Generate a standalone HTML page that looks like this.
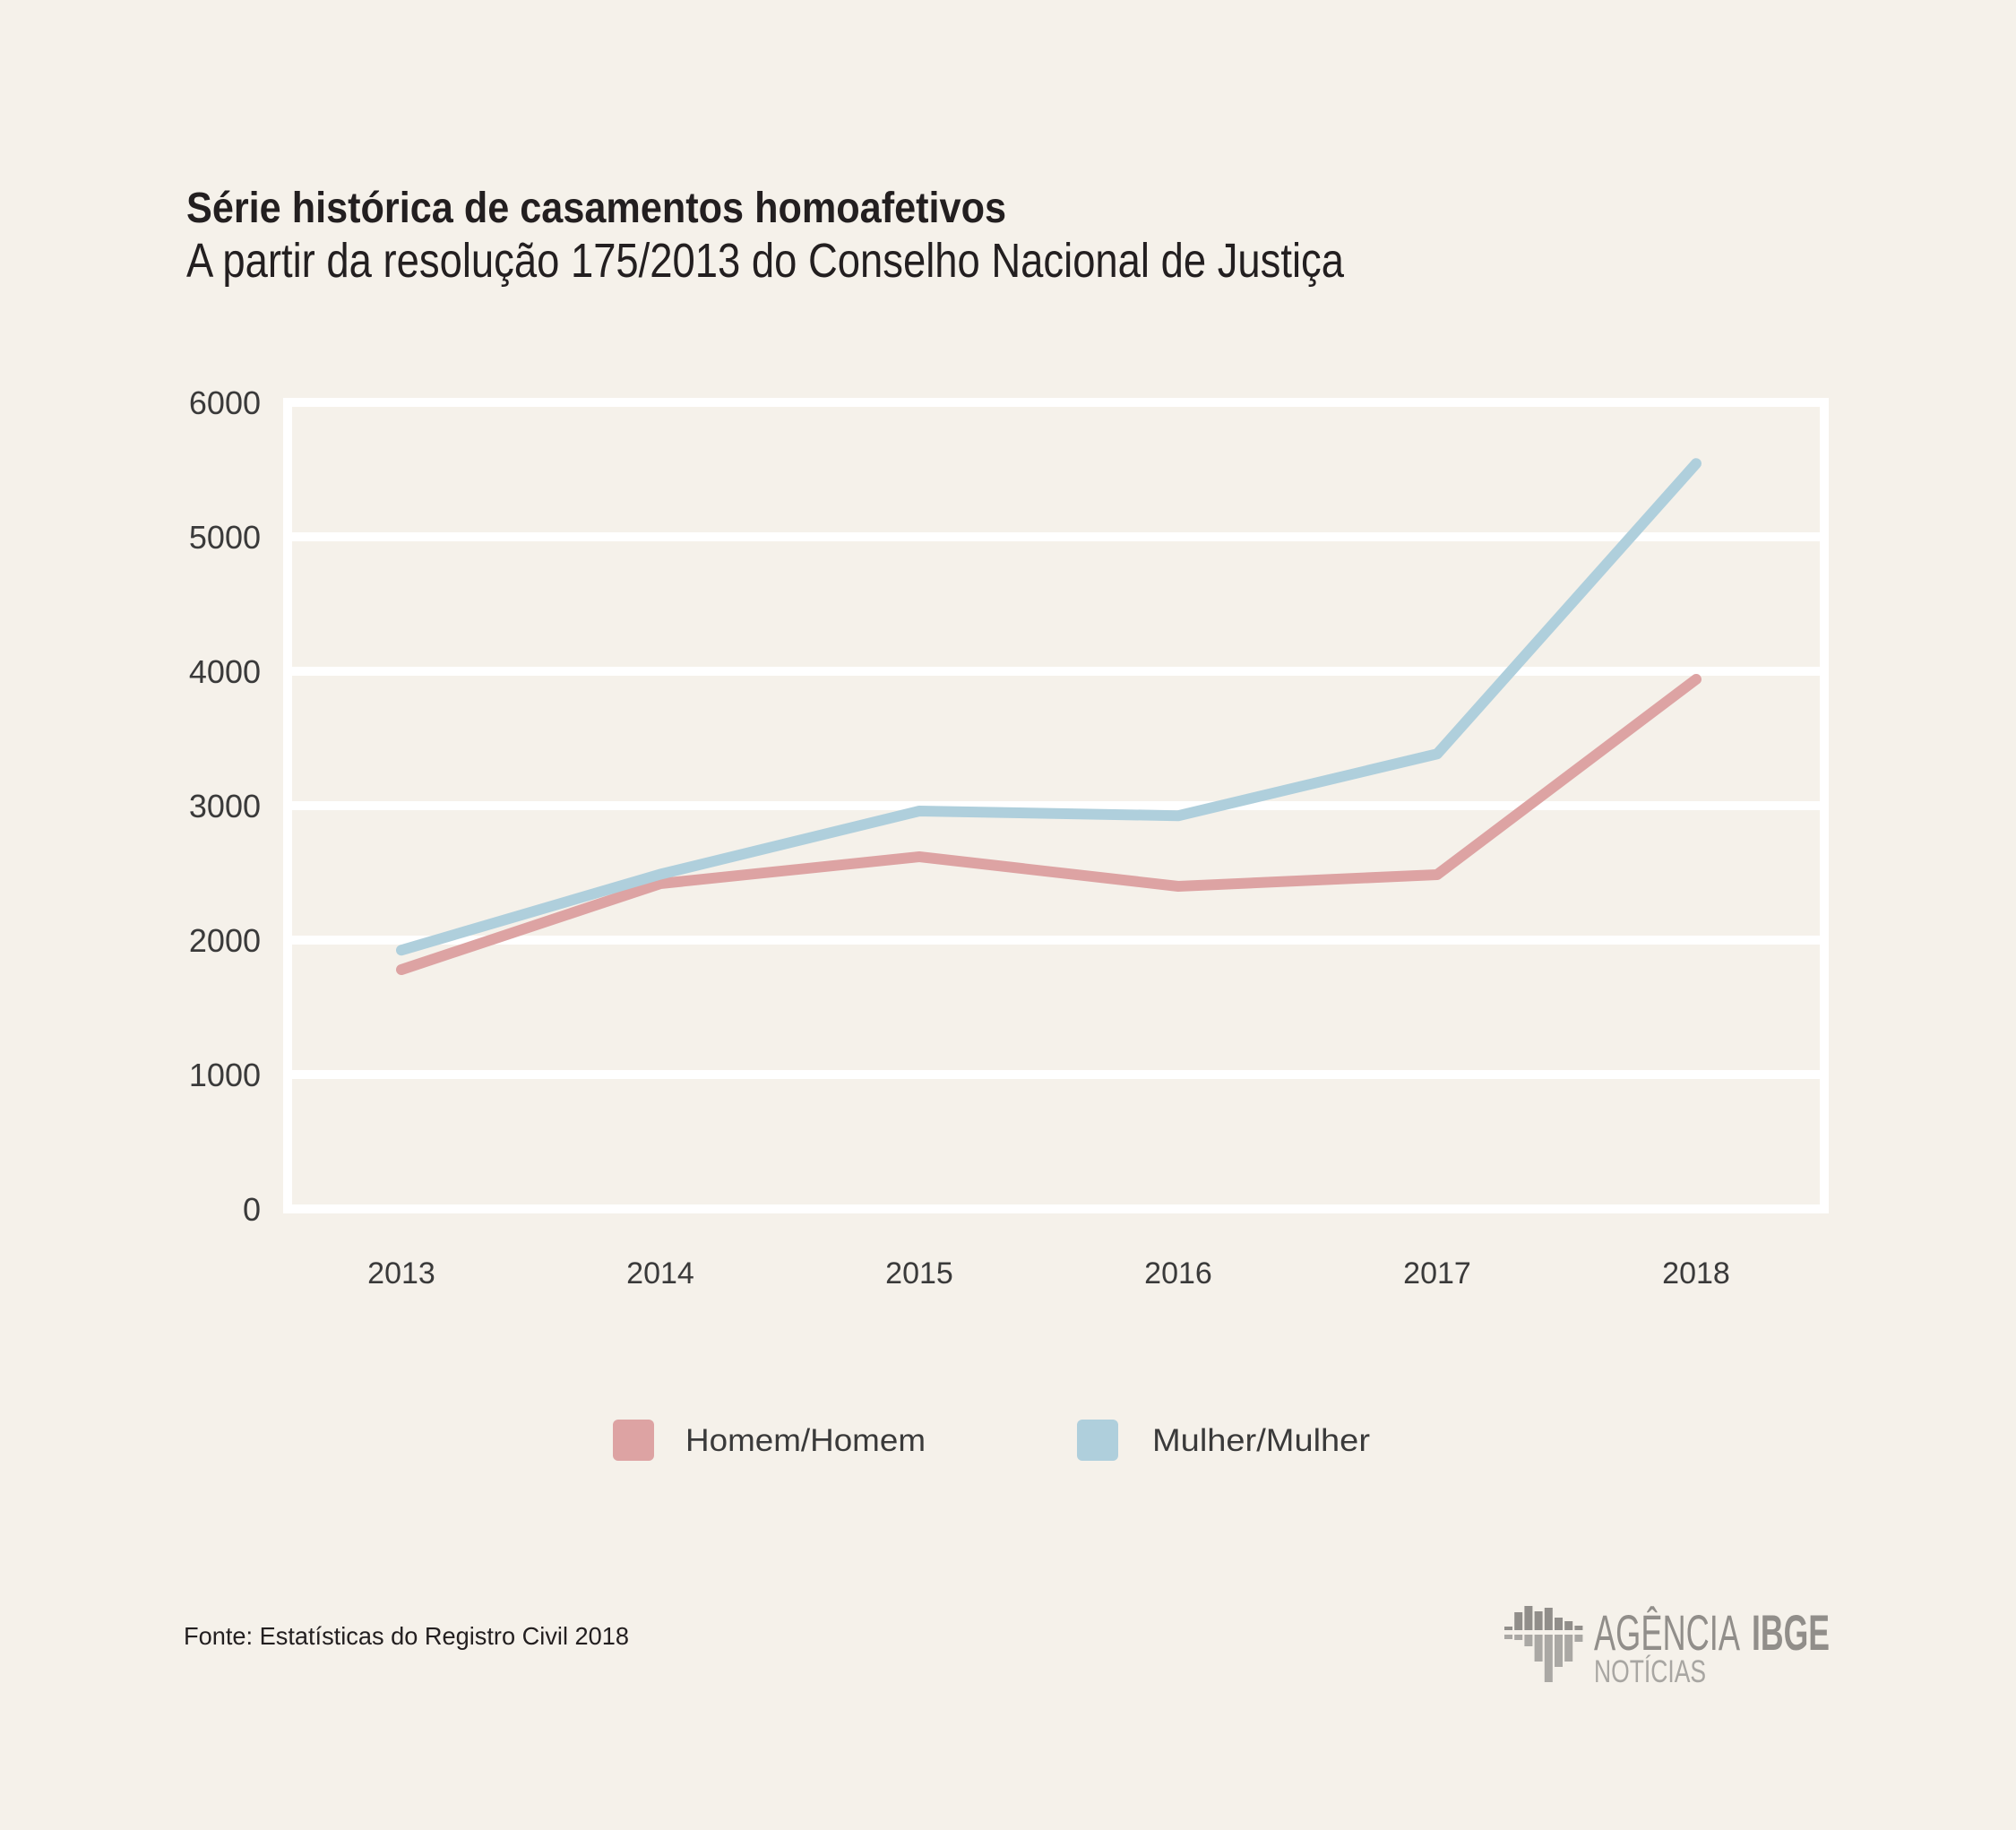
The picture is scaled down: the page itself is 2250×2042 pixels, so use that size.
<!DOCTYPE html>
<html><head><meta charset="utf-8">
<style>
html,body{margin:0;padding:0;background:#f5f1ea;}
svg{display:block;}
text{font-family:"Liberation Sans",sans-serif;}
.cond{font-family:"Liberation Sans Narrow","Liberation Sans",sans-serif;}
</style></head>
<body>
<svg id="chart" width="2250" height="2042" viewBox="0 0 2250 2042">
<rect width="2250" height="2042" fill="#f5f1ea"/>
<text class="cond" x="208" y="248" font-size="48" font-weight="bold" fill="#231f20" textLength="915" lengthAdjust="spacingAndGlyphs">Série histórica de casamentos homoafetivos</text>
<text class="cond" x="208" y="309" font-size="54" fill="#231f20" textLength="1292" lengthAdjust="spacingAndGlyphs">A partir da resolução 175/2013 do Conselho Nacional de Justiça</text>
<g id="grid"></g>
<g id="series"></g>
<g id="xlabels"></g>
<g>
 <rect x="684" y="1584" width="46" height="46" rx="6" fill="#dda3a3"/>
 <text x="765" y="1619" font-size="35" fill="#3a3a3a" textLength="268" lengthAdjust="spacingAndGlyphs">Homem/Homem</text>
 <rect x="1202" y="1584" width="46" height="46" rx="6" fill="#afcfdc"/>
 <text x="1286" y="1619" font-size="35" fill="#3a3a3a" textLength="243" lengthAdjust="spacingAndGlyphs">Mulher/Mulher</text>
</g>
<text class="cond" x="205" y="1835" font-size="28" fill="#231f20" textLength="497" lengthAdjust="spacingAndGlyphs">Fonte: Estatísticas do Registro Civil 2018</text>
<g id="logo">
 <text class="cond" x="1779" y="1841" font-size="56" fill="#918e8a" textLength="163" lengthAdjust="spacingAndGlyphs">AGÊNCIA</text>
 <text class="cond" x="1955" y="1841" font-size="56" font-weight="bold" fill="#918e8a" textLength="87" lengthAdjust="spacingAndGlyphs">IBGE</text>
 <text class="cond" x="1779" y="1877" font-size="35" fill="#a8a6a2" textLength="125" lengthAdjust="spacingAndGlyphs">NOTÍCIAS</text>
</g>
</svg>
<script>
const years = ["2013","2014","2015","2016","2017","2018"];
const homem = [1780, 2420, 2620, 2400, 2487, 3940];
const mulher = [1925, 2490, 2960, 2925, 3385, 5545];
const yTicks = [0, 1000, 2000, 3000, 4000, 5000, 6000];
const yTickLabels = ["0","1000","2000","3000","4000","5000","6000"];

const NS = "http://www.w3.org/2000/svg";
const plotL = 321, plotR = 2036, plotT = 449, plotB = 1349;
const yMax = 6000;
const xFirst = 448, xLast = 1893;
function xs(i){ return xFirst + (xLast - xFirst) * i / (years.length - 1); }
function ys(v){ return plotB - (plotB - plotT) * v / yMax; }
function mk(tag, attrs, parent){
  const e = document.createElementNS(NS, tag);
  for (const k in attrs) e.setAttribute(k, attrs[k]);
  parent.appendChild(e); return e;
}
const grid = document.getElementById('grid');
yTicks.forEach((t, i) => {
  const l = mk('line', {x1: plotL, x2: plotR, y1: ys(t), y2: ys(t), stroke: '#fff', 'stroke-width': 10}, grid);
  
  
  const tx = mk('text', {x: 291, y: ys(t) + 13, 'font-size': 36, fill: '#3a3a3a', 'text-anchor': 'end'}, grid);
  tx.textContent = yTickLabels[i];
  
  
});
['left', 'right'].forEach(side => {
  const x = side === 'left' ? plotL : plotR;
  const l = mk('line', {x1: x, x2: x, y1: plotT - 5, y2: plotB + 5, stroke: '#fff', 'stroke-width': 10}, grid);
  
  
});
const xl = document.getElementById('xlabels');
years.forEach((y, i) => {
  const t = mk('text', {x: xs(i), y: 1432, 'font-size': 34, fill: '#3a3a3a', 'text-anchor': 'middle'}, xl);
  t.textContent = y;
  
  
});
const sg = document.getElementById('series');
[[homem, '#dda3a3', 'line-homem'], [mulher, '#afcfdc', 'line-mulher']].forEach(([vals, col, name]) => {
  const d = vals.map((v, i) => (i ? 'L' : 'M') + xs(i) + ' ' + ys(v)).join(' ');
  const p = mk('path', {d: d, fill: 'none', stroke: col, 'stroke-width': 12, 'stroke-linecap': 'round', 'stroke-linejoin': 'round'}, sg);
  
  
});
const logo = document.getElementById('logo');
const barTops = [1815, 1799, 1792, 1798, 1794, 1805, 1809, 1814];
const barBottoms = [1829, 1830, 1837, 1854, 1877, 1860, 1854, 1832];
barTops.forEach((top, i) => {
  const x = 1679 + i * 11.2;
  const a = mk('rect', {x: x, y: top, width: 9, height: 1819 - top, fill: '#918e8a'}, logo);
  
  
  const b = mk('rect', {x: x, y: 1824, width: 9, height: barBottoms[i] - 1824, fill: '#aaa8a4'}, logo);
  
  
});
</script>
</body></html>
